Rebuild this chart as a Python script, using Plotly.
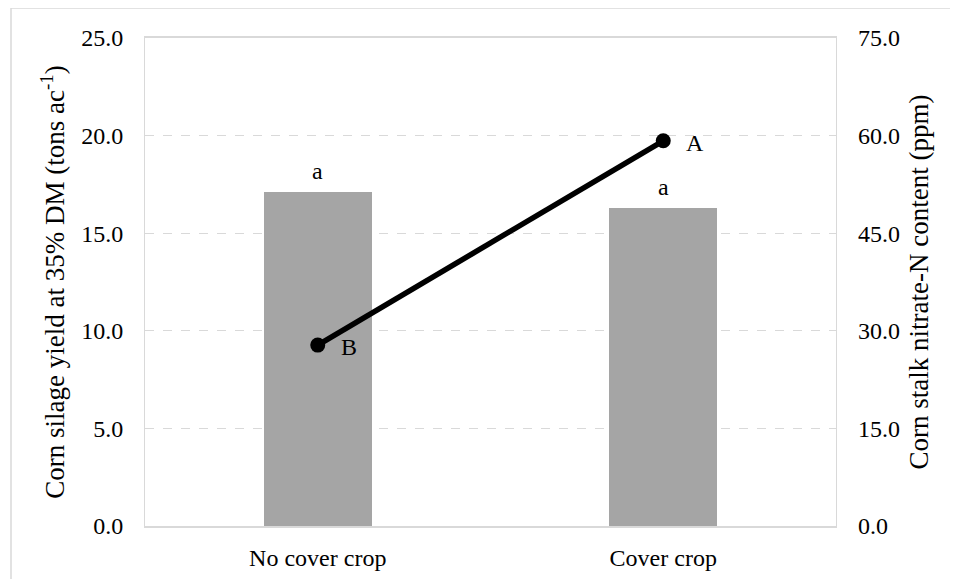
import plotly.graph_objects as go

categories = ["No cover crop", "Cover crop"]
silage_yield = [17.13, 16.29]          # tons ac-1 at 35% DM (left axis)
nitrate_n = [27.8, 59.2]               # ppm (right axis)
yield_letters = ["a", "a"]
nitrate_letters = ["B", "A"]
left_ticks = [0, 5, 10, 15, 20, 25]
right_ticks = [0, 15, 30, 45, 60, 75]

FONT = "Liberation Serif"
GRID = "#d9d9d9"
FS = 24      # tick labels / letters
FT = 27      # axis titles

fig = go.Figure()
fig.add_trace(go.Bar(
    x=categories, y=silage_yield, marker=dict(color="#a5a5a5", line=dict(width=0)),
    width=0.313, showlegend=False, hoverinfo="skip"))
fig.add_trace(go.Scatter(
    x=categories, y=nitrate_n, yaxis="y2", mode="lines+markers",
    line=dict(color="black", width=5.5), marker=dict(color="black", size=15),
    showlegend=False, hoverinfo="skip"))

annotations = []
for c, v, t in zip(categories, silage_yield, yield_letters):
    annotations.append(dict(x=c, y=v, xref="x", yref="y", text=t, showarrow=False,
                            yanchor="bottom", yshift=6, font=dict(family=FONT, size=FS, color="black")))
for c, v, t in zip(categories, nitrate_n, nitrate_letters):
    annotations.append(dict(x=c, y=v, xref="x", yref="y2", text=t, showarrow=False,
                            xanchor="left", xshift=21, yshift=-2, font=dict(family=FONT, size=FS, color="black")))

fig.update_layout(
    width=958, height=579,
    margin=dict(l=137, r=130, t=30, b=61),
    plot_bgcolor="white", paper_bgcolor="white",
    font=dict(family=FONT, size=FS, color="black"),
    bargap=0,
    xaxis=dict(showgrid=False, showline=True, linecolor=GRID, linewidth=1.5, mirror=True,
               ticks="", ticklabelstandoff=9, tickfont=dict(family=FONT, size=FS)),
    yaxis=dict(range=[0, 25], tickvals=left_ticks, tickformat=".1f",
               showgrid=True, gridcolor=GRID, griddash="dash", gridwidth=1,
               showline=True, linecolor=GRID, linewidth=1, mirror=True, zeroline=False,
               ticks="", ticklabelstandoff=16, tickfont=dict(family=FONT, size=FS),
               title=dict(text="Corn silage yield at 35% DM (tons ac<sup>-1</sup>)",
                          font=dict(family=FONT, size=FT), standoff=8)),
    yaxis2=dict(range=[0, 75], tickvals=right_ticks, tickformat=".1f", overlaying="y",
                side="right", showgrid=False, zeroline=False, ticks="",
                ticklabelstandoff=21, tickfont=dict(family=FONT, size=FS),
                title=dict(text="Corn stalk nitrate-N content (ppm)",
                           font=dict(family=FONT, size=FT), standoff=10)),
    annotations=annotations,
    shapes=[dict(type="rect", xref="paper", yref="paper",
                 x0=-134/691, x1=(955-145)/691, y0=-(582-526)/488, y1=(526-8)/488,
                 line=dict(color=GRID, width=1.5), fillcolor="rgba(0,0,0,0)", layer="below")],
)

fig.write_html("out.html")
